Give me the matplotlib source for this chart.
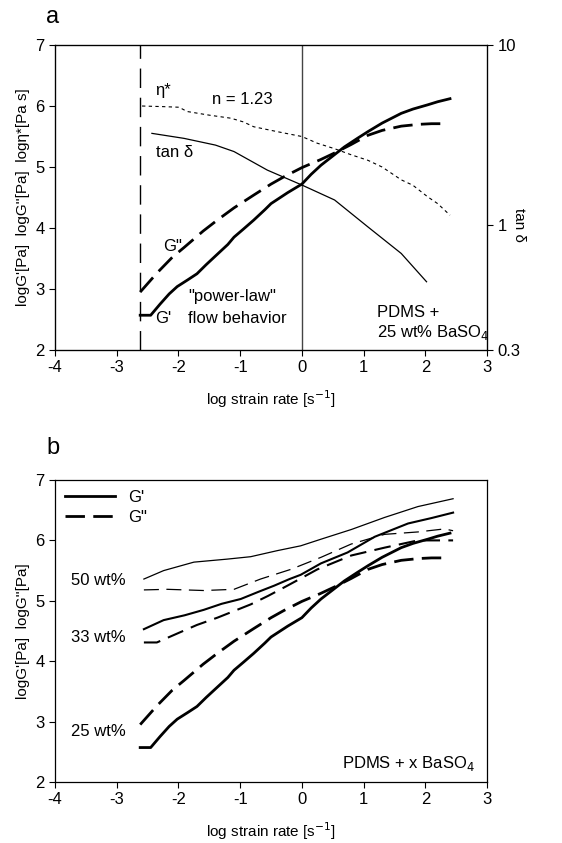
import matplotlib
matplotlib.use("Agg")
import matplotlib.pyplot as plt
from matplotlib.lines import Line2D

plt.rcParams["font.family"] = ["Liberation Sans", "DejaVu Sans"]
plt.rcParams["font.size"] = 12
plt.rcParams["axes.unicode_minus"] = False

# ---- panel a: PDMS + 25 wt% BaSO4 ----
gp25_x = [-2.62, -2.45, -2.30, -2.15, -2.02, -1.85, -1.70, -1.55, -1.37, -1.20,
          -1.10, -0.95, -0.78, -0.60, -0.50, -0.35, -0.23, 0.00, 0.15, 0.31,
          0.50, 0.69, 0.90, 1.07, 1.30, 1.61, 1.80, 2.04, 2.20, 2.40]
gp25_y = [2.57, 2.57, 2.75, 2.92, 3.04, 3.15, 3.25, 3.40, 3.57, 3.73,
          3.85, 3.98, 4.13, 4.30, 4.40, 4.50, 4.58, 4.72, 4.88, 5.03,
          5.18, 5.33, 5.47, 5.58, 5.72, 5.88, 5.95, 6.02, 6.07, 6.12]

gpp25_x = [-2.62, -2.35, -2.10, -1.91, -1.60, -1.37, -1.10, -0.78, -0.50, -0.29,
           0.00, 0.30, 0.53, 0.80, 1.07, 1.30, 1.61, 1.90, 2.10, 2.37]
gpp25_y = [2.95, 3.26, 3.52, 3.68, 3.95, 4.13, 4.33, 4.54, 4.72, 4.84,
           4.99, 5.12, 5.23, 5.37, 5.52, 5.60, 5.67, 5.70, 5.71, 5.71]

eta_x = [-2.59, -2.25, -1.99, -1.86, -1.50, -1.15, -0.95, -0.78, -0.40, 0.00,
         0.25, 0.53, 0.80, 1.07, 1.30, 1.61, 1.80, 2.04, 2.20, 2.40]
eta_y = [6.00, 5.99, 5.98, 5.91, 5.85, 5.80, 5.74, 5.66, 5.58, 5.50,
         5.39, 5.30, 5.20, 5.11, 5.00, 4.79, 4.70, 4.51, 4.40, 4.21]

tand_x = [-2.43, -1.91, -1.40, -1.10, -0.56, 0.00, 0.53, 1.07, 1.61, 2.02]
tand_y = [3.22, 3.02, 2.77, 2.55, 2.01, 1.66, 1.37, 0.97, 0.69, 0.48]

critical_rate = -2.63

# ---- panel b: 33 and 50 wt% ----
gp33_x = [-2.56, -2.24, -1.90, -1.59, -1.30, -0.99, -0.70, -0.45, -0.20, -0.02,
          0.31, 0.74, 1.18, 1.72, 2.10, 2.45]
gp33_y = [4.53, 4.68, 4.76, 4.85, 4.95, 5.03, 5.15, 5.25, 5.36, 5.43,
          5.62, 5.80, 6.06, 6.28, 6.37, 6.46]
gpp33_x = [-2.56, -2.35, -1.97, -1.70, -1.37, -1.10, -0.83, -0.55, -0.29, 0.00,
           0.25, 0.80, 1.34, 1.88, 2.45]
gpp33_y = [4.31, 4.31, 4.48, 4.60, 4.72, 4.83, 4.94, 5.08, 5.22, 5.38,
           5.52, 5.75, 5.88, 6.00, 6.00]

gp50_x = [-2.56, -2.24, -1.75, -1.21, -0.83, -0.40, -0.02, 0.31, 0.80, 1.34, 1.88, 2.45]
gp50_y = [5.36, 5.50, 5.64, 5.69, 5.73, 5.83, 5.91, 6.02, 6.18, 6.38, 6.56, 6.69]
gpp50_x = [-2.56, -2.18, -1.59, -1.10, -0.67, -0.18, 0.31, 0.80, 1.34, 1.88, 2.31, 2.45]
gpp50_y = [5.18, 5.19, 5.17, 5.19, 5.36, 5.52, 5.72, 5.94, 6.10, 6.14, 6.19, 6.16]

xticks = [-4, -3, -2, -1, 0, 1, 2, 3]
yticks = [2, 3, 4, 5, 6, 7]

fig = plt.figure(figsize=(5.62, 8.43), dpi=100)
ax_a = fig.add_axes([0.0979, 0.5848, 0.7687, 0.3618])
ax_b = fig.add_axes([0.0979, 0.0724, 0.7687, 0.3582])


def style_axes(ax):
    ax.set_xlim(-4, 3)
    ax.set_ylim(2, 7)
    ax.set_xticks(xticks)
    ax.set_yticks(yticks)
    ax.tick_params(direction="out", length=4, width=0.8, labelsize=12)
    for s in ax.spines.values():
        s.set_linewidth(0.9)
    ax.set_xlabel("log strain rate [s$^{-1}$]", fontsize=11, labelpad=9)


# panel a
style_axes(ax_a)
ax_a.axvline(critical_rate, color="black", lw=1.0, dashes=(14, 7))
ax_a.axvline(0, color="#444444", lw=1.0)
ax_a.plot(gp25_x, gp25_y, color="black", lw=2.0)
ax_a.plot(gpp25_x, gpp25_y, color="black", lw=2.0, dashes=(7, 3))
ax_a.plot(eta_x, eta_y, color="black", lw=0.8, dashes=(3, 3))
ax_a.set_ylabel("logG'[Pa]  logG''[Pa]  log\u03b7*[Pa s]", fontsize=11)

ax_t = ax_a.twinx()
ax_t.set_yscale("log")
ax_t.set_ylim(0.2, 10)
ax_t.plot(tand_x, tand_y, color="black", lw=0.9)
ax_t.set_yticks([0.2, 1, 10])
ax_t.set_yticklabels(["0.3", "1", "10"])
ax_t.yaxis.set_minor_locator(plt.NullLocator())
ax_t.tick_params(direction="out", length=4, width=0.8, labelsize=12)
ax_t.set_ylabel("tan \u03b4", fontsize=11, rotation=-90, va="center")
ax_t.yaxis.set_label_coords(1.075, 0.41)

ax_a.text(-2.25, 6.26, "\u03b7*", ha="center", va="center", fontsize=12)
ax_a.text(-0.97, 6.10, "n = 1.23", ha="center", va="center", fontsize=12)
ax_a.text(-2.07, 5.23, "tan \u03b4", ha="center", va="center", fontsize=12)
ax_a.text(-2.10, 3.69, "G\"", ha="center", va="center", fontsize=12)
ax_a.text(-2.25, 2.52, "G'", ha="center", va="center", fontsize=12)
ax_a.text(-1.13, 2.87, "\"power-law\"", ha="center", va="center", fontsize=12)
ax_a.text(-1.05, 2.52, "flow behavior", ha="center", va="center", fontsize=12)
ax_a.text(1.22, 2.62, "PDMS +", ha="left", va="center", fontsize=12)
ax_a.text(1.22, 2.28, "25 wt% BaSO$_4$", ha="left", va="center", fontsize=12)
fig.text(0.094, 0.98, "a", fontsize=17, ha="center", va="center")

# panel b
style_axes(ax_b)
ax_b.plot(gp25_x, gp25_y, color="black", lw=2.0)
ax_b.plot(gpp25_x, gpp25_y, color="black", lw=2.0, dashes=(7, 3))
ax_b.plot(gp33_x, gp33_y, color="black", lw=1.5)
ax_b.plot(gpp33_x, gpp33_y, color="black", lw=1.5, dashes=(8, 4))
ax_b.plot(gp50_x, gp50_y, color="black", lw=0.9)
ax_b.plot(gpp50_x, gpp50_y, color="black", lw=0.9, dashes=(12, 6))
ax_b.set_ylabel("logG'[Pa]  logG''[Pa]", fontsize=11)

handles = [Line2D([], [], color="black", lw=2.0),
           Line2D([], [], color="black", lw=2.0, dashes=(7, 3))]
ax_b.legend(handles, ["G'", "G\""], loc="upper left", frameon=False,
            handlelength=3.0, fontsize=12, borderaxespad=0.2, labelspacing=0.3)

ax_b.text(-3.30, 5.34, "50 wt%", ha="center", va="center", fontsize=12)
ax_b.text(-3.30, 4.40, "33 wt%", ha="center", va="center", fontsize=12)
ax_b.text(-3.30, 2.83, "25 wt%", ha="center", va="center", fontsize=12)
ax_b.text(2.81, 2.31, "PDMS + x BaSO$_4$", ha="right", va="center", fontsize=12)
fig.text(0.094, 0.468, "b", fontsize=17, ha="center", va="center")

fig.savefig("out.png", dpi=100)
